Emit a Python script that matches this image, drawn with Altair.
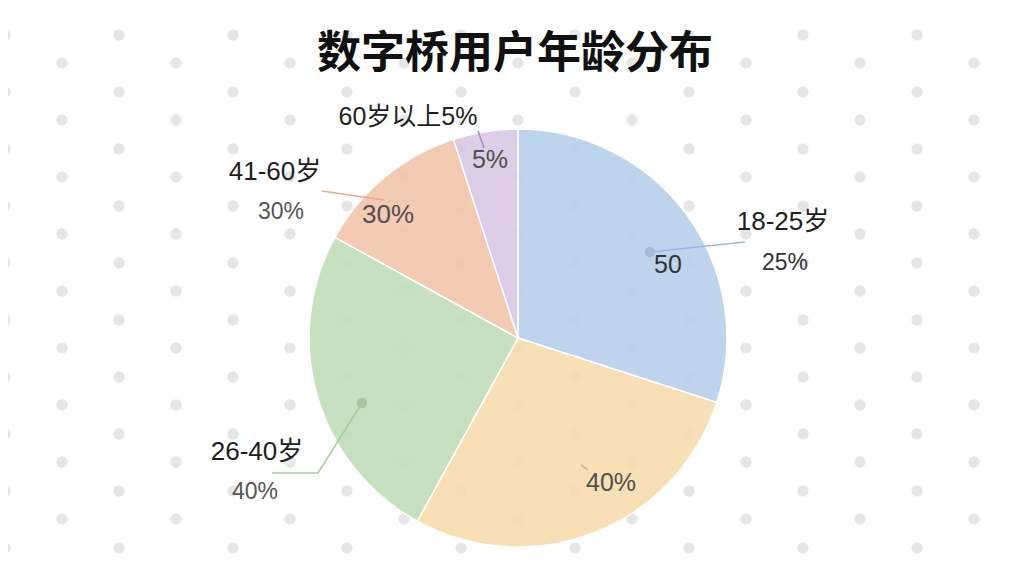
import altair as alt
import pandas as pd

# ---------------- data ----------------
TITLE = "数字桥用户年龄分布"
slice_names = ["18-25岁", "26-40岁(内)", "26-40岁", "41-60岁", "60岁以上"]
slice_values = [30, 28, 25, 12, 5]
slice_colors = ["#b7d0eb", "#f7ddae", "#c2deba", "#f2c6ab", "#dac8e4"]

label_texts = ["60岁以上5%", "41-60岁", "30%", "30%", "5%",
               "18-25岁", "25%", "50", "26-40岁", "40%", "40%"]

# ---------------- layout ----------------
FONT = "Noto Sans CJK SC"
LFONT = "Liberation Sans, Noto Sans CJK SC"
W, H = 1008, 480
PAD_TOP = 80
CX, CY, R = 510, 250, 209

# label anchor positions (chart pixels), font sizes and colours
label_x = [400, 267, 273, 380, 482, 775, 777, 660, 249, 247, 603]
label_y = [29, 84, 124, 127, 72, 134, 175, 177, 364, 404, 395]
label_size = [25, 26, 23, 26, 25, 26, 23, 25, 26, 23, 25]
label_color = ["#1e1e1e", "#1e1e1e", "#555555", "#505050", "#505050",
               "#1e1e1e", "#333333", "#333333", "#1e1e1e", "#555555", "#505050"]

# leader lines
line_id = ["b", "b", "p", "p", "u", "u", "g", "g", "g", "o", "o"]
line_k = [0, 1, 0, 1, 0, 1, 0, 1, 2, 0, 1]
line_x = [642, 737, 314, 376, 470, 476, 354, 310, 264, 573, 580]
line_y = [164, 154, 103, 112, 43, 60, 315, 385, 385, 377, 382]
line_col = {"b": "#9cbbe0", "p": "#e8a98a", "u": "#a891c4", "g": "#a9cda1", "o": "#cdb690"}

dot_x = [642, 354]
dot_y = [164, 315]
dot_col = ["#a3bcd8", "#a9c4a3"]

# decorative background lattice (page pixels -> chart pixels)
bg_x, bg_y = [], []
for i in range(19):
    px = 5 + 57 * i
    off = 0 if i % 2 == 0 else 28
    for j in range(0, 11):
        py = 35 + 57 * j + off
        bg_x.append(px - 8)
        bg_y.append(py - 8 - PAD_TOP)

# ---------------- chart ----------------
xs = alt.Scale(domain=[0, W], nice=False, zero=False)
ysc = alt.Scale(domain=[H, 0], nice=False, zero=False)

bg = alt.Chart(pd.DataFrame({"x": bg_x, "y": bg_y})).mark_circle(
    size=130, color="#e6e6e6", opacity=1
).encode(x=alt.X("x:Q", scale=xs, axis=None), y=alt.Y("y:Q", scale=ysc, axis=None))

pie_df = pd.DataFrame({"name": slice_names, "value": slice_values,
                       "order": list(range(len(slice_names)))})
pie = alt.Chart(pie_df).mark_arc(
    outerRadius=R, stroke="white", strokeWidth=1.5, opacity=0.9
).encode(
    theta=alt.Theta("value:Q", stack=True),
    color=alt.Color("name:N", scale=alt.Scale(domain=slice_names, range=slice_colors), legend=None),
    order=alt.Order("order:Q"),
    x=alt.value(CX),
    y=alt.value(CY),
)

lines_df = pd.DataFrame({"id": line_id, "k": line_k, "x": line_x, "y": line_y,
                         "c": [line_col[i] for i in line_id]})
lines = alt.Chart(lines_df).mark_line(strokeWidth=1.6).encode(
    x=alt.X("x:Q", scale=xs, axis=None),
    y=alt.Y("y:Q", scale=ysc, axis=None),
    detail="id:N",
    order="k:Q",
    color=alt.Color("c:N", scale=None),
)

dots = alt.Chart(pd.DataFrame({"x": dot_x, "y": dot_y, "c": dot_col})).mark_circle(
    size=110, opacity=1
).encode(
    x=alt.X("x:Q", scale=xs, axis=None),
    y=alt.Y("y:Q", scale=ysc, axis=None),
    color=alt.Color("c:N", scale=None),
)

lab_df = pd.DataFrame({"t": label_texts, "x": label_x, "y": label_y,
                       "s": label_size, "c": label_color})
labels = alt.Chart(lab_df).mark_text(font=LFONT, baseline="middle", align="center").encode(
    x=alt.X("x:Q", scale=xs, axis=None),
    y=alt.Y("y:Q", scale=ysc, axis=None),
    text="t:N",
    size=alt.Size("s:Q", scale=None),
    color=alt.Color("c:N", scale=None),
)

title = alt.Chart(pd.DataFrame({"t": [TITLE], "x": [507], "y": [-33]})).mark_text(
    font=FONT, fontSize=44, fontWeight="bold", color="#111111", baseline="middle", align="center"
).encode(
    x=alt.X("x:Q", scale=xs, axis=None),
    y=alt.Y("y:Q", scale=ysc, axis=None),
    text="t:N",
)

chart = alt.layer(bg, pie, lines, dots, labels, title).properties(
    width=W,
    height=H,
    padding={"top": PAD_TOP, "left": 0, "right": 0, "bottom": 0},
    autosize="none",
    background="white",
).resolve_scale(color="independent").configure_view(stroke=None)

chart.save("out.html", embed_options={"renderer": "svg", "actions": False})
